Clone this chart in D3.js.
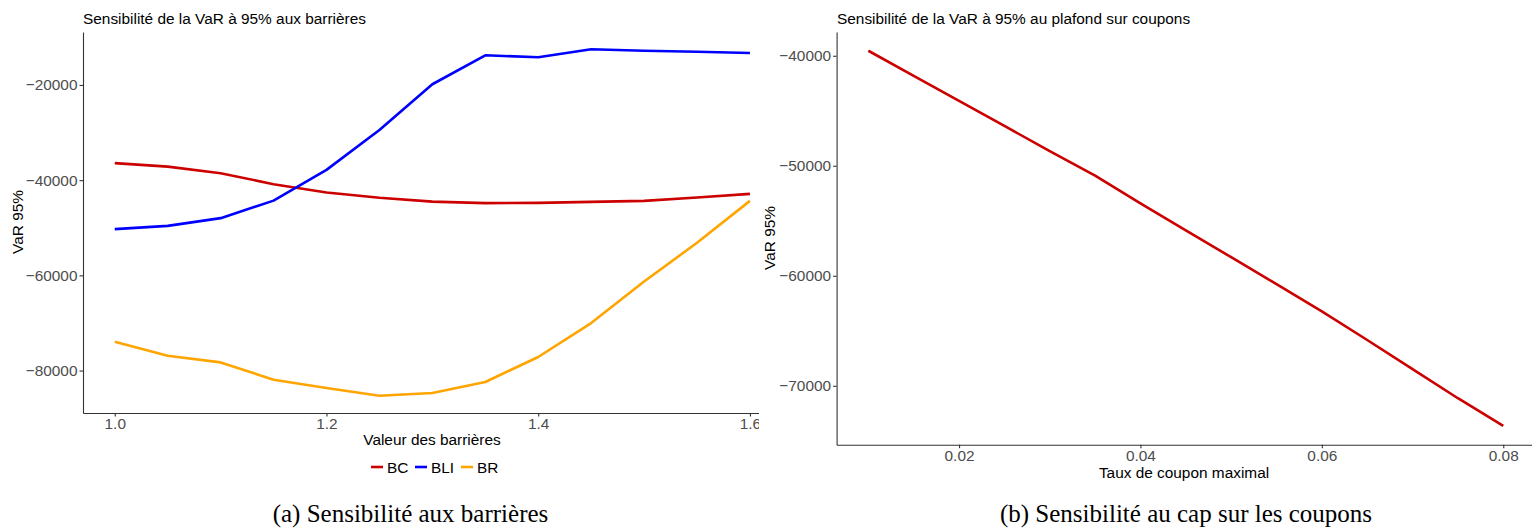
<!DOCTYPE html>
<html>
<head>
<meta charset="utf-8">
<script src="https://cdn.jsdelivr.net/npm/d3@7"></script>
<style>
  body { margin: 0; background: #fff; }
  svg { display: block; }
  .tick text { font-family: "Liberation Sans", Arial, sans-serif; }
</style>
</head>
<body>
<svg id="fig" width="1532" height="529"></svg>
<script>
// panel (a): VaR vs barrier level
const barrierLevels = [1.0, 1.05, 1.1, 1.15, 1.2, 1.25, 1.3, 1.35, 1.4, 1.45, 1.5, 1.55, 1.6];
const varBC  = [-36430, -37150, -38540, -40840, -42600, -43700, -44500, -44830, -44770, -44560, -44350, -43650, -42880];
const varBLI = [-50290, -49600, -47980, -44300, -37840, -29450, -19850, -13770, -14190, -12510, -12800, -13010, -13280];
const varBR  = [-73940, -76880, -78290, -81920, -83660, -85280, -84710, -82400, -77150, -70020, -61290, -53160, -44350];
const seriesNames = ['BC', 'BLI', 'BR'];
const seriesColors = ['#CD0000', '#0000FF', '#FFA500'];
const barrierTicksX = [1.0, 1.2, 1.4, 1.6];
const barrierTicksY = [-80000, -60000, -40000, -20000];

// panel (b): VaR vs coupon cap
const couponCaps = [0.01, 0.015, 0.02, 0.025, 0.03, 0.035, 0.04, 0.045, 0.05, 0.055, 0.06, 0.065, 0.07, 0.075, 0.08];
const varCap = [-39545, -41820, -44100, -46380, -48660, -50890, -53420, -55870, -58310, -60760, -63240, -65840, -68480, -71130, -73650];
const capTicksX = [0.02, 0.04, 0.06, 0.08];
const capTicksY = [-70000, -60000, -50000, -40000];

const svg = d3.select('#fig');
const sans = '"Liberation Sans", Arial, Helvetica, sans-serif';
const serif = '"Liberation Serif", "Times New Roman", serif';
const fs = 15.4;

// ggplot style expansion of 5%
function padded (ext) {
  const p = (ext[1] - ext[0]) * 0.05;
  return [ext[0] - p, ext[1] + p];
}

function drawAxes (g, x, y, xt, yt, fx, fy, bottom, left) {
  const xa = g.append('g').attr('transform', `translate(0,${bottom})`)
    .call(d3.axisBottom(x).tickValues(xt).tickFormat(fx).tickSize(3.5).tickSizeOuter(0).tickPadding(2));
  const ya = g.append('g').attr('transform', `translate(${left},0)`)
    .call(d3.axisLeft(y).tickValues(yt).tickFormat(fy).tickSize(3.5).tickSizeOuter(0).tickPadding(2));
  [xa, ya].forEach(a => {
    a.select('.domain').attr('stroke', '#333').attr('stroke-width', 1.1);
    a.selectAll('.tick line').attr('stroke', '#333').attr('stroke-width', 1.1);
    a.selectAll('.tick text').attr('fill', '#4D4D4D').style('font-size', fs + 'px');
  });
}

function label (g, x, y, txt, anchor, rot) {
  const t = g.append('text')
    .attr('font-family', sans).attr('font-size', fs).attr('fill', '#000')
    .attr('text-anchor', anchor || 'start')
    .text(txt);
  if (rot) t.attr('transform', `translate(${x},${y}) rotate(-90)`);
  else t.attr('x', x).attr('y', y);
  return t;
}

// ---------- panel (a) ----------
svg.append('defs').append('clipPath').attr('id', 'clipA')
  .append('rect').attr('x', 0).attr('y', 0).attr('width', 759).attr('height', 529);

const gA = svg.append('g').attr('clip-path', 'url(#clipA)');
const xA = d3.scaleLinear().domain(padded(d3.extent(barrierLevels))).range([83, 781.7]);
const yA = d3.scaleLinear()
  .domain(padded(d3.extent([...varBC, ...varBLI, ...varBR])))
  .range([413, 32]);

drawAxes(gA, xA, yA, barrierTicksX, barrierTicksY, d3.format('.1f'), d3.format('d'), 413, 83);

const allSeries = [varBC, varBLI, varBR];
const lineA = d3.line().x((d, i) => xA(barrierLevels[i])).y(d => yA(d));
allSeries.forEach((s, k) => {
  gA.append('path').datum(s)
    .attr('d', lineA)
    .attr('fill', 'none')
    .attr('stroke', seriesColors[k])
    .attr('stroke-width', 2.6)
    .attr('stroke-linejoin', 'round');
});

label(gA, 83, 24, 'Sensibilité de la VaR à 95% aux barrières');
label(gA, 432, 445, 'Valeur des barrières', 'middle');
label(gA, 23, 222, 'VaR 95%', 'middle', true);

// legend
const legX = [371, 415, 461];
seriesNames.forEach((n, k) => {
  gA.append('line')
    .attr('x1', legX[k]).attr('x2', legX[k] + 12)
    .attr('y1', 467).attr('y2', 467)
    .attr('stroke', seriesColors[k]).attr('stroke-width', 2.6);
  label(gA, legX[k] + 16, 472.5, n);
});

svg.append('text').attr('x', 410.5).attr('y', 522)
  .attr('text-anchor', 'middle')
  .attr('font-family', serif).attr('font-size', 25).attr('fill', '#000')
  .text('(a) Sensibilité aux barrières');

// ---------- panel (b) ----------
const gB = svg.append('g');
const xB = d3.scaleLinear().domain(padded(d3.extent(couponCaps))).range([836.6, 1535]);
const yB = d3.scaleLinear().domain(padded(d3.extent(varCap))).range([444.7, 32]);

drawAxes(gB, xB, yB, capTicksX, capTicksY, d3.format('.2f'), d3.format('d'), 444.7, 836.6);

const lineB = d3.line().x((d, i) => xB(couponCaps[i])).y(d => yB(d));
gB.append('path').datum(varCap)
  .attr('d', lineB)
  .attr('fill', 'none')
  .attr('stroke', seriesColors[0])
  .attr('stroke-width', 2.6)
  .attr('stroke-linejoin', 'round');

label(gB, 837, 24, 'Sensibilité de la VaR à 95% au plafond sur coupons');
label(gB, 1184, 477.5, 'Taux de coupon maximal', 'middle');
label(gB, 775, 238, 'VaR 95%', 'middle', true);

svg.append('text').attr('x', 1186).attr('y', 522)
  .attr('text-anchor', 'middle')
  .attr('font-family', serif).attr('font-size', 25).attr('fill', '#000')
  .text('(b) Sensibilité au cap sur les coupons');
</script>
</body>
</html>
